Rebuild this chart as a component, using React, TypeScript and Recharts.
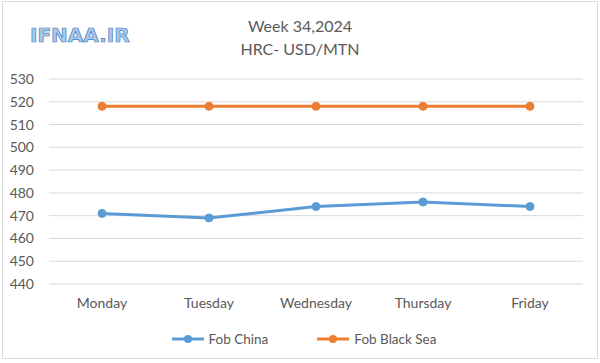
import { CartesianGrid, Legend, Line, LineChart, XAxis, YAxis } from "recharts";

const days = ["Monday", "Tuesday", "Wednesday", "Thursday", "Friday"];
const fobChina = [471, 469, 474, 476, 474];
const fobBlackSea = [518, 518, 518, 518, 518];
const yTicks = [440, 450, 460, 470, 480, 490, 500, 510, 520, 530];

const data = days.map((day, i) => ({
  day,
  china: fobChina[i],
  blackSea: fobBlackSea[i],
}));

const FONT = "Lato, 'Liberation Sans', sans-serif";
const GREY = "#595959";

const legendItems = [
  { label: "Fob China", color: "#5b9bd5" },
  { label: "Fob Black Sea", color: "#ed7d31" },
];

function LegendContent() {
  return (
    <div
      style={{
        display: "flex",
        justifyContent: "center",
        gap: 48,
        fontFamily: FONT,
        fontSize: 13.5,
        color: GREY,
        paddingLeft: 24,
      }}
    >
      {legendItems.map((item) => (
        <div key={item.label} style={{ display: "flex", alignItems: "center" }}>
          <svg width={34} height={10} style={{ marginRight: 4 }}>
            <line x1={1} y1={5} x2={33} y2={5} stroke={item.color} strokeWidth={3} />
            <circle cx={17} cy={5} r={4} fill={item.color} />
          </svg>
          <span>{item.label}</span>
        </div>
      ))}
    </div>
  );
}

export default function App() {
  return (
    <div
      style={{
        position: "absolute",
        left: 0,
        top: 0,
        width: 600,
        height: 363,
        background: "#fff",
        fontFamily: FONT,
      }}
    >
      <div
        style={{
          position: "absolute",
          left: 2,
          top: 1,
          width: 594,
          height: 356,
          border: "1px solid #d9d9d9",
        }}
      />
      <svg width={600} height={70} style={{ position: "absolute", left: 0, top: 0 }}>
        <text
          x={30}
          y={42}
          fontFamily="'DejaVu Sans', sans-serif"
          fontWeight="bold"
          fontSize={20}
          fill="#a9c8ec"
          stroke="#4a7ebb"
          strokeWidth={0.7}
        >
          IFNAA.IR
        </text>
        <text x={300} y={32} textAnchor="middle" fontFamily={FONT} fontSize={16} fill={GREY}>
          Week 34,2024
        </text>
        <text x={300} y={55} textAnchor="middle" fontFamily={FONT} fontSize={16} fill={GREY}>
          HRC- USD/MTN
        </text>
      </svg>
      <LineChart
        width={600}
        height={363}
        data={data}
        margin={{ top: 79, right: 17, bottom: 0, left: 0 }}
        style={{ position: "absolute", left: 0, top: 0 }}
      >
        <CartesianGrid vertical={false} stroke="#d9d9d9" />
        <XAxis
          dataKey="day"
          axisLine={false}
          tickLine={false}
          tickMargin={8}
          height={63}
          padding={{ left: 53, right: 53 }}
          tick={{ fill: GREY, fontSize: 14, fontFamily: FONT }}
          interval={0}
        />
        <YAxis
          domain={[440, 530]}
          ticks={yTicks}
          interval={0}
          axisLine={false}
          tickLine={false}
          width={49}
          tickMargin={9}
          tick={{ fill: GREY, fontSize: 14, fontFamily: FONT }}
        />
        <Legend verticalAlign="bottom" content={<LegendContent />} wrapperStyle={{ bottom: 16 }} />
        <Line
          dataKey="china"
          stroke="#5b9bd5"
          strokeWidth={3}
          dot={{ r: 4, fill: "#5b9bd5", stroke: "#5b9bd5", strokeWidth: 1 }}
          isAnimationActive={false}
        />
        <Line
          dataKey="blackSea"
          stroke="#ed7d31"
          strokeWidth={3}
          dot={{ r: 4, fill: "#ed7d31", stroke: "#ed7d31", strokeWidth: 1 }}
          isAnimationActive={false}
        />
      </LineChart>
    </div>
  );
}
